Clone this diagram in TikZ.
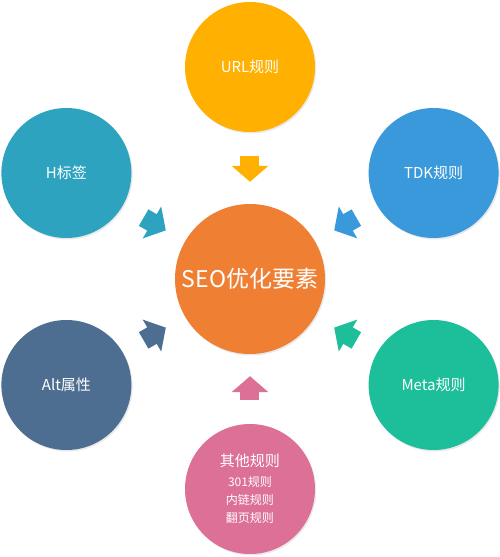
\documentclass[tikz,border=0pt]{standalone}
\usepackage{fontspec}
\setmainfont{Noto Sans CJK SC}
\usepackage{xcolor}
\usepackage{tikz}
\usetikzlibrary{arrows.meta, shadows}

\definecolor{urlc}{HTML}{FFB000}
\definecolor{tdkc}{HTML}{3A99DB}
\definecolor{metac}{HTML}{1DBF9B}
\definecolor{otherc}{HTML}{DD7096}
\definecolor{altc}{HTML}{4E6E91}
\definecolor{hc}{HTML}{2EA3BF}
\definecolor{seoc}{HTML}{EF7F33}

\newcommand{\subrule}[1]{{\fontsize{12pt}{18pt}\selectfont #1}}

\begin{document}
\begin{tikzpicture}[
    leaf/.style={circle, minimum size=130pt, inner sep=0pt, text=white, align=center, font=\fontsize{15pt}{18pt}\selectfont, drop shadow={shadow xshift=1.2pt, shadow yshift=-1.5pt, fill=black!25, opacity=0.35}},
    hub/.style={leaf, minimum size=150pt, font=\fontsize{23pt}{28pt}\selectfont},
    arrow/.style={-{Triangle[width=36pt, length=16pt]}, line width=19pt, shorten <=24pt, shorten >=22pt}
]
\useasboundingbox (-250pt,-278pt) rectangle (250pt,279pt);

\node[hub, fill=seoc] (seo) at (0,0) {SEO优化要素};
\node[leaf, fill=urlc] (url) at (90:212pt) {URL规则};
\node[leaf, fill=tdkc] (tdk) at (30:212pt) {TDK规则};
\node[leaf, fill=metac] (meta) at (-30:212pt) {Meta规则};
\node[leaf, fill=otherc] (other) at (-90:210pt) {其他规则\\[2pt]\subrule{301规则}\\\subrule{内链规则}\\\subrule{翻页规则}};
\node[leaf, fill=altc] (alt) at (210:212pt) {Alt属性};
\node[leaf, fill=hc] (htag) at (150:212pt) {H标签};

\draw[arrow, urlc] (url) -- (seo);
\draw[arrow, tdkc] (tdk) -- (seo);
\draw[arrow, metac] (meta) -- (seo);
\draw[arrow, otherc] (other) -- (seo);
\draw[arrow, altc] (alt) -- (seo);
\draw[arrow, hc] (htag) -- (seo);
\end{tikzpicture}
\end{document}
